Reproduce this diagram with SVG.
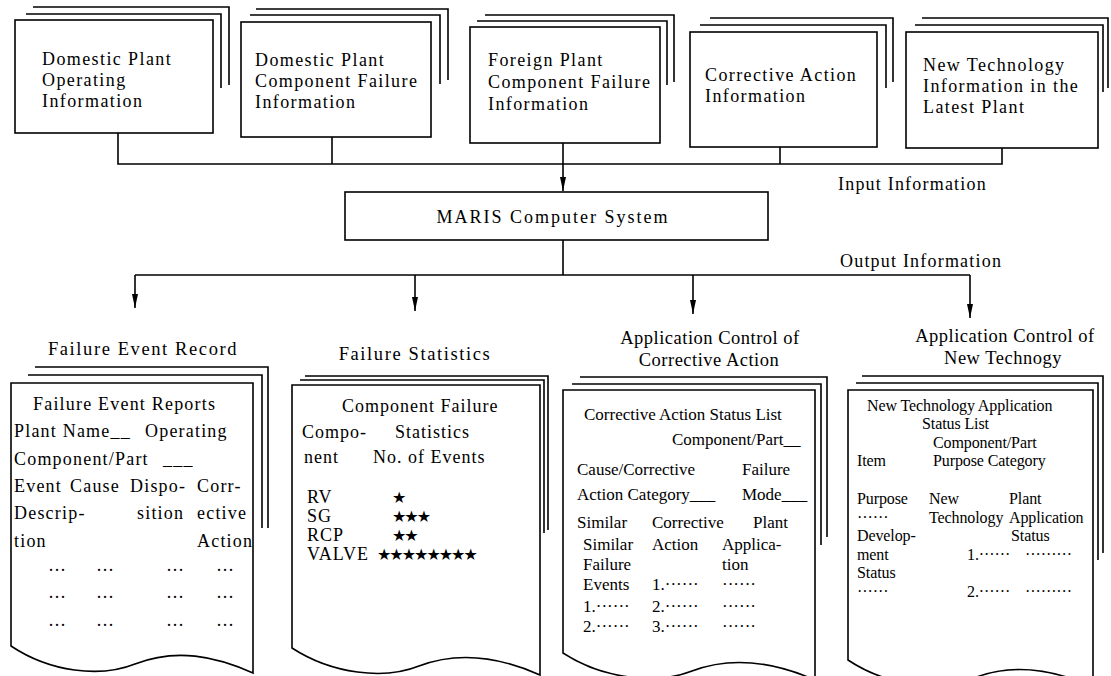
<svg xmlns="http://www.w3.org/2000/svg" width="1111" height="676" viewBox="0 0 1111 676">
<style>
.ln{fill:none;stroke:#000;stroke-width:1.6}
.bx{fill:#fff;stroke:#000;stroke-width:1.6}
text{font-family:"Liberation Serif","Times New Roman",serif;fill:#000}
.t18{font-size:18px;letter-spacing:1.4px}
.lbl{font-size:18px;letter-spacing:1.2px}
.ttl{font-size:18.5px;letter-spacing:1.6px;text-anchor:middle}
.ttl2{font-size:18.5px;letter-spacing:0.5px;text-anchor:middle}
.d1{font-size:18px;letter-spacing:1.2px}
.d2{font-size:18px;letter-spacing:1px}
.d3{font-size:17px}
.d4{font-size:16px;letter-spacing:-0.1px}
.dot{letter-spacing:0}
.star{font-family:"DejaVu Sans",sans-serif;font-size:16px;letter-spacing:-2px}
</style>
<defs>
<marker id="ah" viewBox="0 0 14 6" markerWidth="14" markerHeight="6" refX="14" refY="3" orient="auto" markerUnits="userSpaceOnUse">
<path d="M0,0 L14,3 L0,6 Z" fill="#000"/>
</marker>
</defs>
<rect width="1111" height="676" fill="#fff"/>

<g id="in1">
<path class="ln" d="M33,7 H229 V85"/>
<path class="ln" d="M26,14 H221 V88"/>
<rect class="bx" x="15" y="20" width="198" height="113"/>
<text class="t18" x="42" y="65">Domestic Plant</text>
<text class="t18" x="42" y="86">Operating</text>
<text class="t18" x="42" y="107">Information</text>
</g>
<g id="in2">
<path class="ln" d="M256,9 H448 V80"/>
<path class="ln" d="M250,15 H440 V84"/>
<rect class="bx" x="241" y="22" width="190" height="115"/>
<text class="t18" x="255" y="66">Domestic Plant</text>
<text class="t18" x="255" y="87">Component Failure</text>
<text class="t18" x="255" y="108">Information</text>
</g>
<g id="in3">
<path class="ln" d="M485,15 H674 V82"/>
<path class="ln" d="M477,21 H667 V85"/>
<rect class="bx" x="470" y="27" width="190" height="116"/>
<text class="t18" x="488" y="66">Foreign Plant</text>
<text class="t18" x="488" y="88">Component Failure</text>
<text class="t18" x="488" y="110">Information</text>
</g>
<g id="in4">
<path class="ln" d="M710,18 H893 V82"/>
<path class="ln" d="M700,25 H886 V88"/>
<rect class="bx" x="690" y="32" width="187" height="115"/>
<text class="t18" x="705" y="81">Corrective Action</text>
<text class="t18" x="705" y="102">Information</text>
</g>
<g id="in5">
<path class="ln" d="M922,18 H1108 V88"/>
<path class="ln" d="M915,25 H1103 V92"/>
<rect class="bx" x="906" y="32" width="192" height="116"/>
<text class="t18" x="923" y="71">New Technology</text>
<text class="t18" x="923" y="92">Information in the</text>
<text class="t18" x="923" y="113">Latest Plant</text>
</g>

<g id="maris">
<rect class="bx" x="345" y="192" width="423" height="48"/>
<text class="lbl" x="553" y="223" text-anchor="middle" style="letter-spacing:2px">MARIS Computer System</text>
</g>

<g id="connectors">
<path class="ln" d="M118,133 V164 H1002 V148"/>
<path class="ln" d="M332,137 V164"/>
<path class="ln" d="M780,147 V164"/>
<path class="ln" d="M563,143 V191" marker-end="url(#ah)"/>
<path class="ln" d="M563,240 V275"/>
<path class="ln" d="M135,275 H970"/>
<path class="ln" d="M135,275 V308" marker-end="url(#ah)"/>
<path class="ln" d="M415,275 V311" marker-end="url(#ah)"/>
<path class="ln" d="M693,275 V314" marker-end="url(#ah)"/>
<path class="ln" d="M970,275 V318" marker-end="url(#ah)"/>
<text class="lbl" x="838" y="190">Input Information</text>
<text class="lbl" x="840" y="267">Output Information</text>
</g>

<g id="out1">
<text class="ttl" x="143" y="355">Failure Event Record</text>
<path class="ln" d="M35,367 H268 V528"/>
<path class="ln" d="M28,375 H262 V528"/>
<path class="bx" d="M253,673 V383 H11 V646 C50,672 100,678 135,664 C176,648 215,656 253,673 Z"/>
<text class="d1" x="33" y="410">Failure Event Reports</text>
<text class="d1" x="14" y="437">Plant Name__</text>
<text class="d1" x="145" y="437">Operating</text>
<text class="d1" x="14" y="465">Component/Part</text>
<text class="d1" x="163" y="465">___</text>
<text class="d1" x="14" y="492">Event</text>
<text class="d1" x="70" y="492">Cause</text>
<text class="d1" x="130" y="492">Dispo-</text>
<text class="d1" x="197" y="492">Corr-</text>
<text class="d1" x="14" y="519">Descrip-</text>
<text class="d1" x="137" y="519">sition</text>
<text class="d1" x="197" y="519">ective</text>
<text class="d1" x="14" y="547">tion</text>
<text class="d1" x="197" y="547">Action</text>
<g class="d1 dot">
<text x="48" y="576">···</text><text x="96" y="576">···</text><text x="166" y="576">···</text><text x="216" y="576">···</text>
<text x="48" y="603">···</text><text x="96" y="603">···</text><text x="166" y="603">···</text><text x="216" y="603">···</text>
<text x="48" y="631">···</text><text x="96" y="631">···</text><text x="166" y="631">···</text><text x="216" y="631">···</text>
</g>
</g>

<g id="out2">
<text class="ttl" x="415" y="360">Failure Statistics</text>
<path class="ln" d="M305,376 H548 V530"/>
<path class="ln" d="M300,380 H544 V533"/>
<path class="bx" d="M540,675 V385 H292 V648 C332,674 384,680 419,666 C461,650 502,658 540,675 Z"/>
<text class="d2" x="342" y="412">Component Failure</text>
<text class="d2" x="302" y="438">Compo-</text>
<text class="d2" x="395" y="438">Statistics</text>
<text class="d2" x="304" y="463">nent</text>
<text class="d2" x="373" y="463">No. of Events</text>
<text class="d2" x="307" y="503">RV</text>
<text class="d2" x="307" y="522">SG</text>
<text class="d2" x="307" y="541">RCP</text>
<text class="d2" x="307" y="560">VALVE</text>
<text class="star" x="392" y="503">★</text>
<text class="star" x="392" y="522">★★★</text>
<text class="star" x="392" y="541">★★</text>
<text class="star" x="377" y="560">★★★★★★★★</text>
</g>

<g id="out3">
<text class="ttl2" x="710" y="344">Application Control of</text>
<text class="ttl2" x="709" y="366">Corrective Action</text>
<path class="ln" d="M580,377 H827 V537"/>
<path class="ln" d="M572,384 H821 V545"/>
<path class="bx" d="M815,680 V390 H563 V653 C603,679 656,685 692,671 C734,655 776,663 815,680 Z"/>
<text class="d3" x="584" y="420">Corrective Action Status List</text>
<text class="d3" x="672" y="445">Component/Part__</text>
<text class="d3" x="577" y="475">Cause/Corrective</text>
<text class="d3" x="742" y="475">Failure</text>
<text class="d3" x="577" y="500">Action Category___</text>
<text class="d3" x="742" y="500">Mode___</text>
<text class="d3" x="577" y="528">Similar</text>
<text class="d3" x="652" y="528">Corrective</text>
<text class="d3" x="753" y="528">Plant</text>
<text class="d3" x="583" y="550">Similar</text>
<text class="d3" x="652" y="550">Action</text>
<text class="d3" x="722" y="550">Applica-</text>
<text class="d3" x="583" y="570">Failure</text>
<text class="d3" x="722" y="570">tion</text>
<text class="d3" x="583" y="590">Events</text>
<text class="d3" x="652" y="590">1.······</text>
<text class="d3" x="722" y="590">······</text>
<text class="d3" x="583" y="612">1.······</text>
<text class="d3" x="652" y="612">2.······</text>
<text class="d3" x="722" y="612">······</text>
<text class="d3" x="583" y="632">2.······</text>
<text class="d3" x="652" y="632">3.······</text>
<text class="d3" x="722" y="632">······</text>
</g>

<g id="out4">
<text class="ttl2" x="1005" y="342">Application Control of</text>
<text class="ttl2" x="1003" y="364">New Technogy</text>
<path class="ln" d="M862,376 H1103 V553"/>
<path class="ln" d="M856,383 H1098 V560"/>
<path class="bx" d="M1093,687 V390 H848 V660 C887,686 939,692 974,678 C1015,662 1055,670 1093,687 Z"/>
<text class="d4" x="867" y="411">New Technology Application</text>
<text class="d4" x="922" y="429">Status List</text>
<text class="d4" x="933" y="448">Component/Part</text>
<text class="d4" x="857" y="466">Item</text>
<text class="d4" x="933" y="466">Purpose Category</text>
<text class="d4" x="857" y="504">Purpose</text>
<text class="d4" x="929" y="504">New</text>
<text class="d4" x="1009" y="504">Plant</text>
<text class="d4" x="857" y="523">······</text>
<text class="d4" x="929" y="523">Technology</text>
<text class="d4" x="1009" y="523">Application</text>
<text class="d4" x="857" y="541">Develop-</text>
<text class="d4" x="1011" y="541">Status</text>
<text class="d4" x="857" y="560">ment</text>
<text class="d4" x="967" y="560">1.······</text>
<text class="d4" x="1025" y="560">·········</text>
<text class="d4" x="857" y="578">Status</text>
<text class="d4" x="857" y="597">······</text>
<text class="d4" x="967" y="597">2.······</text>
<text class="d4" x="1025" y="597">·········</text>
</g>
</svg>
